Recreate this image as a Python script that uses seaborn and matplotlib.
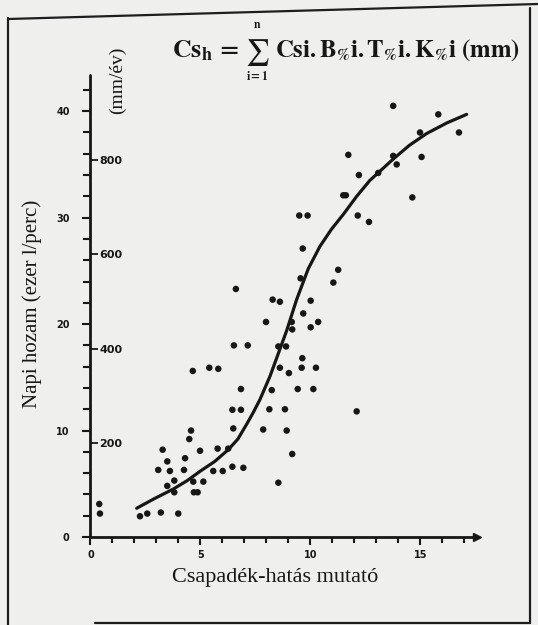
import matplotlib
matplotlib.use('Agg')
import numpy as np
import pandas as pd
import matplotlib.pyplot as plt
import seaborn as sns
from matplotlib.lines import Line2D
from matplotlib.ticker import MultipleLocator, NullLocator

sns.set_style('ticks')
plt.rcParams['font.family'] = ['DejaVu Sans']
plt.rcParams['mathtext.fontset'] = 'stix'

# ---- data ----
index_x = [0.40, 0.43, 2.25, 2.58, 3.20, 3.99, 3.28, 3.08, 3.49, 3.61,
           3.49, 3.81, 3.81, 4.30, 4.25, 4.57, 4.49, 4.67, 4.70, 4.87,
           4.98, 5.13, 5.58, 5.78, 6.01, 6.26, 6.49, 6.45, 6.45, 6.84,
           6.84, 6.95, 7.85, 8.13, 8.24, 8.54, 6.61, 8.28, 8.61, 10.01,
           9.55, 11.04, 11.26, 7.98, 9.15, 9.17, 9.67, 10.01, 10.35, 6.52,
           7.15, 8.54, 8.89, 9.63, 4.65, 5.40, 5.81, 8.61, 9.02, 9.60,
           10.25, 9.42, 10.13, 8.84, 12.10, 8.92, 9.17, 13.76, 15.81, 16.75,
           14.98, 15.05, 11.72, 12.20, 13.08, 13.76, 13.92, 11.49, 11.61, 14.63,
           9.49, 9.87, 12.15, 12.66, 9.65]
yield_y = [3.1, 2.2, 1.95, 2.2, 2.3, 2.2, 8.2, 6.3, 7.1, 6.2,
           4.8, 5.3, 4.2, 7.4, 6.3, 10.0, 9.2, 5.2, 4.2, 4.2,
           8.1, 5.2, 6.2, 8.3, 6.2, 8.3, 10.2, 11.95, 6.6, 11.95,
           13.9, 6.5, 10.1, 12.0, 13.8, 5.1, 23.3, 22.3, 22.1, 22.2,
           24.3, 23.9, 25.1, 20.2, 20.2, 19.5, 21.0, 19.7, 20.2, 18.0,
           18.0, 17.9, 17.9, 16.8, 15.6, 15.9, 15.8, 15.9, 15.4, 15.9,
           15.9, 13.9, 13.9, 12.0, 11.8, 10.0, 7.8, 40.5, 39.7, 38.0,
           38.0, 35.7, 35.9, 34.0, 34.2, 35.8, 35.0, 32.1, 32.1, 31.9,
           30.2, 30.2, 30.2, 29.6, 27.1]

curve_x = [2.10, 2.90, 3.76, 4.40, 5.00, 5.65, 6.26, 6.70, 7.10, 7.40,
           7.70, 8.16, 8.55, 8.92, 9.37, 9.90, 10.43, 10.95, 11.49, 12.10,
           12.70, 13.76, 14.50, 15.28, 16.20, 17.10]
curve_y = [2.7, 3.6, 4.5, 5.3, 6.2, 7.1, 8.2, 9.2, 10.6, 11.7,
           12.9, 15.1, 17.3, 19.4, 22.3, 25.2, 27.3, 28.9, 30.3, 32.0,
           33.5, 35.5, 36.8, 37.9, 38.9, 39.7]

x_major = [0, 5, 10, 15]
x_labels = ['0', '5', '10', '15']
y_major = [0, 10, 20, 30, 40]
y_labels = ['0', '10', '20', '30', '40']
mm_ticks = [200, 400, 600, 800]
mm_labels = ['200', '400', '600', '800']
mm_per_unit = 22.6

x_title = 'Csapadék-hatás mutató'
y_title = 'Napi hozam (ezer l/perc)'
y2_title = '(mm/év)'
f_left = r'$\mathbf{Cs_{h}}\,\mathbf{=}$'
f_sum = r'$\sum$'
f_upper = r'$\mathbf{n}$'
f_lower = r'$\mathbf{i=1}$'
f_right = r'$\mathbf{Csi.B_{\%}i.T_{\%}i.K_{\%}i\ (mm)}$'

BG = '#efefed'
INK = '#171717'
SERIF = 'Liberation Serif'

fig = plt.figure(figsize=(5.38, 6.25), dpi=100, facecolor=BG)
ax = fig.add_axes([0.1682, 0.1408, 0.7184, 0.7392])
ax.set_facecolor('none')

pts = pd.DataFrame({'x': index_x, 'y': yield_y})
sns.scatterplot(data=pts, x='x', y='y', ax=ax, s=22, color=INK,
                edgecolor='none', linewidth=0, zorder=3)
crv = pd.DataFrame({'x': curve_x, 'y': curve_y})
sns.lineplot(data=crv, x='x', y='y', ax=ax, color=INK, linewidth=2.3,
             sort=True, estimator=None, zorder=4)
ax.lines[-1].set_solid_joinstyle('round')

ax.set_xlim(0, 17.57)
ax.set_ylim(0, 43.4)

for s in ['top', 'right']:
    ax.spines[s].set_visible(False)
for s in ['left', 'bottom']:
    ax.spines[s].set_linewidth(2.0)
    ax.spines[s].set_color(INK)
    ax.spines[s].set_capstyle('round')

ax.set_xticks(x_major, x_labels)
ax.set_yticks(y_major, y_labels)
ax.xaxis.set_minor_locator(MultipleLocator(1))
ax.yaxis.set_minor_locator(MultipleLocator(2))
ax.tick_params(axis='x', which='major', length=6, width=1.5, direction='out',
               pad=3, labelsize=7, colors=INK)
ax.tick_params(axis='x', which='minor', length=4, width=1.5, direction='out', colors=INK)
ax.tick_params(axis='y', which='major', length=6, width=1.5, direction='out',
               pad=9, labelsize=7, colors=INK)
ax.tick_params(axis='y', which='minor', length=5, width=1.5, direction='out', colors=INK)
for lbl in ax.get_xticklabels() + ax.get_yticklabels():
    lbl.set_fontweight('bold')

# secondary scale (mm/év) on the inner side of the y axis
sec = ax.secondary_yaxis(0, functions=(lambda v: v * mm_per_unit,
                                       lambda m: m / mm_per_unit))
sec.set_alignment('right')
sec.set_yticks(mm_ticks, mm_labels)
sec.yaxis.set_minor_locator(NullLocator())
sec.tick_params(axis='y', direction='out', length=6, width=1.3, pad=0.5,
                labelsize=8, colors=INK)
for sp in sec.spines.values():
    sp.set_visible(False)
for lbl in sec.get_yticklabels():
    lbl.set_fontweight('bold')

# axis arrow
ax.plot([1], [0], marker='>', ms=6, color=INK, transform=ax.transAxes,
        clip_on=False, zorder=5)

ax.set_xlabel(x_title, fontsize=16, family=SERIF, color=INK)
ax.xaxis.set_label_coords(0.477, -0.068)
ax.set_ylabel(y_title, fontsize=15, family=SERIF, color=INK)
ax.yaxis.set_label_coords(-0.125, 0.505)
fig.text(109 / 538, 1 - 80 / 625, y2_title, rotation=90, ha='left', va='center',
         fontsize=14, family=SERIF, color=INK)

# formula (header)
def ftext(x, y, s, size, ha='left', va='baseline'):
    fig.text(x / 538, 1 - y / 625, s, ha=ha, va=va, fontsize=size, color=INK)

ftext(172, 57, f_left, 18.5)
ftext(257, 52, f_sum, 19, ha='center', va='center')
ftext(257, 24, f_upper, 8.5, ha='center', va='center')
ftext(257, 77, f_lower, 8.5, ha='center', va='center')
ftext(275, 57, f_right, 17.8)

# scanned page frame
def px_line(x0, y0, x1, y1, lw=1.6):
    fig.add_artist(Line2D([x0 / 538, x1 / 538], [1 - y0 / 625, 1 - y1 / 625],
                          transform=fig.transFigure, color='#1e1e1e', lw=lw))

px_line(8, 18, 8, 625)
px_line(8, 19, 538, 4)
px_line(530, 8, 530, 623)
px_line(95, 623, 530, 623)

fig.savefig('out.png', dpi=100, facecolor=BG)
